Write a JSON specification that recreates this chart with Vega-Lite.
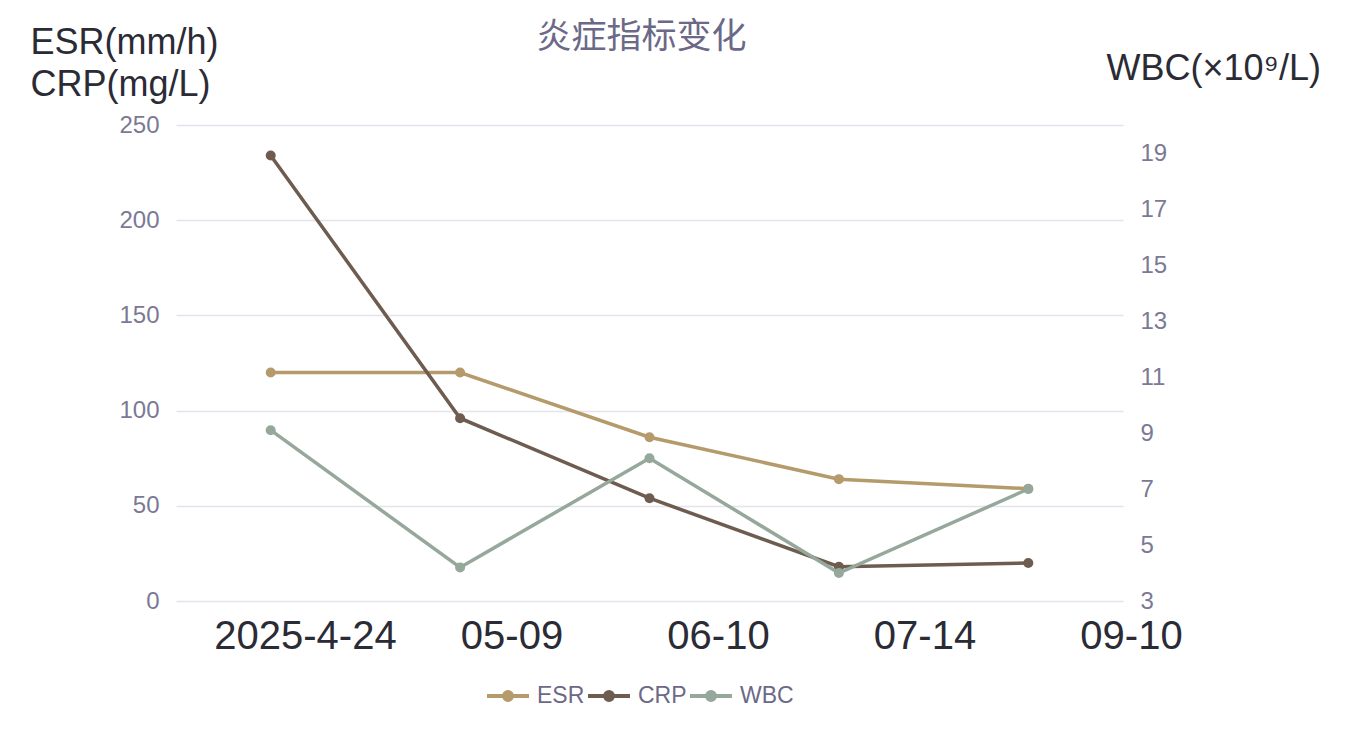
{
  "$schema": "https://vega.github.io/schema/vega-lite/v6.json",
  "width": 947,
  "height": 476,
  "autosize": "none",
  "padding": {"left": 176, "top": 125, "right": 233, "bottom": 131},
  "background": "white",
  "config": {"font": "Liberation Sans, Noto Sans CJK SC", "view": {"stroke": null}},
  "title": {"text": "炎症指标变化", "font": "Noto Sans CJK SC", "fontSize": 35, "fontWeight": "normal", "color": "#6b6987", "anchor": "middle", "dx": -8, "dy": 35},
  "data": {"values": [
    {"date": "2025-4-24", "ESR": 120, "CRP": 234, "WBC": 9.1},
    {"date": "05-09", "ESR": 120, "CRP": 96, "WBC": 4.2},
    {"date": "06-10", "ESR": 86, "CRP": 54, "WBC": 8.1},
    {"date": "07-14", "ESR": 64, "CRP": 18, "WBC": 4.0},
    {"date": "09-10", "ESR": 59, "CRP": 20, "WBC": 7.0}
  ]},
  "layer": [
    {
      "transform": [{"fold": ["ESR", "CRP"], "as": ["series", "value"]}],
      "mark": {"type": "line", "strokeWidth": 3.5, "point": {"filled": true, "size": 100}},
      "encoding": {
        "x": {"field": "date", "type": "nominal", "sort": null, "scale": {"type": "point", "padding": 0.5}, "axis": null},
        "y": {"field": "value", "type": "quantitative", "scale": {"domain": [0, 250]},
          "axis": {"values": [0, 50, 100, 150, 200, 250], "grid": true, "gridColor": "#e4e4ec", "gridWidth": 1.5, "domain": false, "ticks": false,
            "labelFontSize": 24, "labelColor": "#7b7995", "labelPadding": 17,
            "title": ["ESR(mm/h)", "CRP(mg/L)"], "titleAngle": 0, "titleAlign": "left", "titleBaseline": "alphabetic",
            "titleX": -146, "titleY": -72, "titleFontSize": 36, "titleFontWeight": "normal", "titleColor": "#2b2b36", "titleLineHeight": 42}},
        "color": {"field": "series", "type": "nominal",
          "scale": {"domain": ["ESR", "CRP", "WBC"], "range": ["#b59a6c", "#6d5c4f", "#96a89b"]},
          "legend": {"orient": "none", "direction": "horizontal", "legendX": 309, "legendY": 548, "title": null,
            "symbolType": "M-1,0H1M-0.19,0A0.19,0.19,0,1,1,0.19,0A0.19,0.19,0,1,1,-0.19,0",
            "symbolSize": 1764, "symbolStrokeWidth": 4, "labelFontSize": 23, "labelColor": "#6b6987", "labelOffset": 6, "columnPadding": -5}}
      }
    },
    {
      "mark": {"type": "line", "strokeWidth": 3.5, "point": {"filled": true, "size": 100}},
      "encoding": {
        "x": {"field": "date", "type": "nominal", "sort": null, "scale": {"type": "point", "padding": 0.5}, "axis": null},
        "y": {"field": "WBC", "type": "quantitative", "scale": {"domain": [3, 20]},
          "axis": {"orient": "right", "values": [3, 5, 7, 9, 11, 13, 15, 17, 19], "grid": false, "domain": false, "ticks": false,
            "labelFontSize": 24, "labelColor": "#7b7995", "labelPadding": 17,
            "title": "WBC(×10⁹/L)", "titleAngle": 0, "titleAlign": "left", "titleBaseline": "alphabetic",
            "titleX": -17, "titleY": -46, "titleFontSize": 36, "titleFontWeight": "normal", "titleColor": "#2b2b36"}},
        "color": {"datum": "WBC"}
      }
    },
    {
      "mark": {"type": "point", "opacity": 0},
      "encoding": {
        "x": {"field": "date", "type": "nominal", "sort": null, "scale": {"type": "point", "padding": 0, "range": [129, 955]},
          "axis": {"orient": "bottom", "domain": false, "ticks": false, "grid": false, "labelFontSize": 40, "labelColor": "#2b2b36",
            "labelPadding": 15, "labelAngle": 0, "labelOverlap": false, "labelLimit": 0, "title": null}}
      }
    }
  ],
  "resolve": {"scale": {"x": "independent", "y": "independent"}}
}
